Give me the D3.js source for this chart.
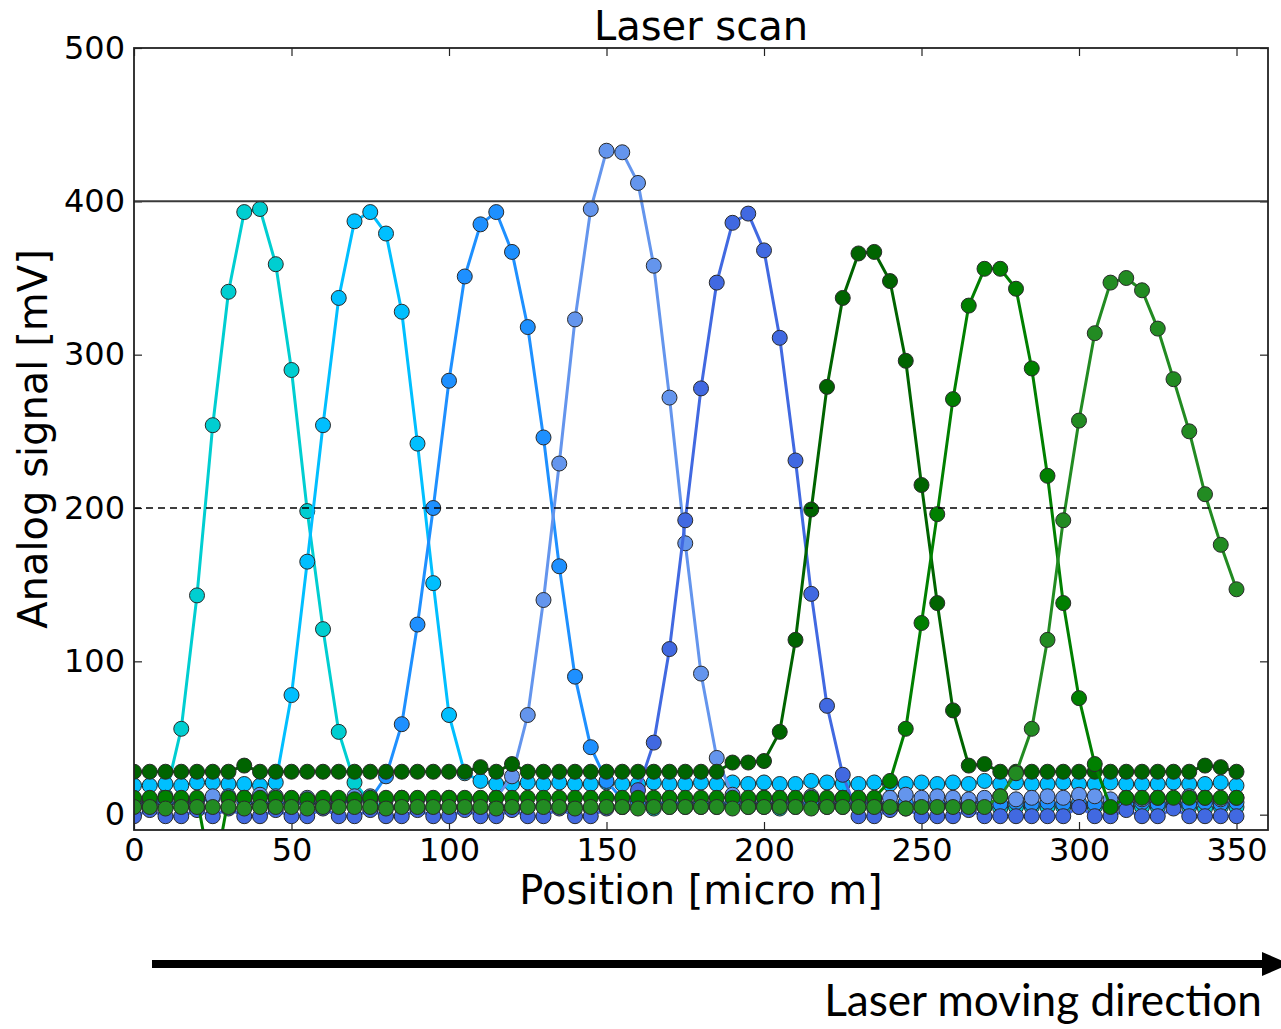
<!DOCTYPE html>
<html lang="en">
  <head>
    <meta charset="utf-8">
    <title>Laser scan</title>
    <script src="https://d3js.org/d3.v7.min.js"></script>
    <style type="text/css">
      body { margin: 0; background: #fff; }
      .chart text { font-family: 'DejaVu Sans', sans-serif; fill: #000; }
      .axis text { font-size: 32px; }
      .axis line { stroke: #222; stroke-width: 1.2px; }
      .axis path { display: none; }
      .series path { fill: none; stroke-width: 3px; }
      .series circle { stroke: #2a2a2a; stroke-width: 1px; }
      .note { font-family: Lato, 'Open Sans', sans-serif !important; }
    </style>
  </head>
  <body>
    <div class="chart" id="chart"></div>
    <script>
      // scan positions [micro m]
      var positions = [
        0, 5, 10, 15, 20, 25, 30, 35, 40, 45,
        50, 55, 60, 65, 70, 75, 80, 85, 90, 95,
        100, 105, 110, 115, 120, 125, 130, 135, 140, 145,
        150, 155, 160, 165, 170, 175, 180, 185, 190, 195,
        200, 205, 210, 215, 220, 225, 230, 235, 240, 245,
        250, 255, 260, 265, 270, 275, 280, 285, 290, 295,
        300, 305, 310, 315, 320, 325, 330, 335, 340, 345,
        350];

      // analog signal [mV] per channel
      var ch1 = [
        5, 6, 12, 56, 143, 254, 341, 393, 395, 359,
        290, 198, 121, 54, 21, 8, 5, 5, 4, 5,
        5, 5, 4, 5, 5, 5, 6, 5, 5, 4,
        5, 5, 5, 4, 5, 5, 5, 5, 6, 5,
        5, 4, 5, 5, 5, 5, 5, 4, 5, 5,
        5, 5, 6, 5, 5, 4, 5, 5, 5, 5,
        5, 5, 4, 5, 5, 5, 6, 5, 4, 5,
        5];
      var ch2 = [
        19, 19, 20, 19, 21, 21, 20, 20, 19, 21,
        78, 165, 254, 337, 387, 393, 379, 328, 242, 151,
        65, 27, 22, 20, 20, 21, 20, 21, 20, 20,
        21, 20, 20, 21, 20, 20, 21, 20, 21, 20,
        21, 20, 20, 22, 21, 20, 20, 21, 20, 20,
        21, 20, 21, 20, 22, 20, 21, 20, 20, 21,
        20, 20, 21, 20, 20, 20, 21, 20, 20, 21,
        19];
      var ch3 = [
        8, 7, 8, 7, 8, 11, 12, 8, 7, 8,
        7, 8, 7, 8, 9, 10, 25, 59, 124, 200,
        283, 351, 385, 393, 367, 318, 246, 162, 90, 44,
        22, 10, 8, 7, 8, 7, 8, 7, 8, 8,
        7, 8, 7, 8, 7, 8, 7, 8, 7, 8,
        7, 8, 7, 8, 8, 7, 8, 7, 8, 7,
        8, 7, 8, 7, 8, 7, 8, 7, 8, 7,
        8];
      var ch4 = [
        10, 10, 11, 10, 10, 12, 10, 11, 13, 12,
        10, 11, 10, 10, 12, 12, 10, 11, 10, 10,
        11, 10, 10, 11, 25, 65, 140, 229, 323, 395,
        433, 432, 412, 358, 272, 177, 92, 37, 13, 10,
        11, 10, 10, 12, 10, 11, 10, 10, 11, 13,
        11, 12, 11, 10, 11, 12, 10, 11, 12, 11,
        13, 12, 10, 11, 10, 11, 10, 12, 11, 10,
        11];
      var ch5 = [
        -1, 3, -1, -1, 3, -1, 4, -1, -1, 3,
        -1, -1, 4, -1, -1, 3, -1, -1, 3, -1,
        -1, 3, -1, -1, 3, -1, -1, 4, -1, -1,
        4, 5, 16, 47, 108, 192, 278, 347, 386, 392,
        368, 311, 231, 144, 71, 26, -1, -1, 3, 4,
        -1, -1, -1, 3, -1, -1, -1, -1, -1, -1,
        5, -1, -1, 3, -1, -1, 4, -1, -1, -1,
        -1];
      var ch6 = [
        28, 28, 28, 28, 28, 28, 28, 32, 28, 28,
        28, 28, 28, 28, 28, 28, 28, 28, 28, 28,
        28, 28, 31, 28, 33, 28, 28, 28, 28, 28,
        28, 28, 28, 28, 28, 28, 28, 28, 34, 34,
        35, 54, 114, 199, 279, 337, 366, 367, 348, 296,
        215, 138, 68, 32, 33, 28, 28, 28, 28, 28,
        28, 28, 28, 28, 28, 28, 28, 28, 32, 31,
        28];
      var ch7 = [
        11, 11, 11, 11, 11, -45, 11, 11, 11, 11,
        11, 10, 11, 11, 10, 11, 11, 11, 11, 11,
        11, 11, 11, 11, 11, 11, 11, 11, 11, 11,
        11, 11, 11, 11, 11, 11, 11, 11, 11, 11,
        11, 11, 11, 11, 11, 11, 11, 11, 22, 56,
        125, 196, 271, 332, 356, 356, 343, 291, 221, 138,
        76, 33, 5, 11, 11, 11, 11, 11, 11, 11,
        11];
      var ch8 = [
        5, 5, 4, 5, 5, 5, 5, 4, 5, 5,
        5, 4, 5, 5, 5, 5, 4, 5, 5, 5,
        5, 5, 5, 4, 5, 5, 5, 5, 4, 5,
        5, 5, 4, 5, 5, 5, 5, 5, 4, 5,
        5, 5, 5, 4, 5, 5, 5, 5, 5, 4,
        5, 5, 5, 5, 5, 12, 27, 56, 114, 192,
        257, 314, 347, 350, 342, 317, 284, 250, 209, 176,
        147];

      var channels = [ch1, ch2, ch3, ch4, ch5, ch6, ch7, ch8];
      var colors = ["darkturquoise", "deepskyblue", "dodgerblue", "cornflowerblue",
                    "royalblue", "darkgreen", "green", "forestgreen"];

      var xTicks = [0, 50, 100, 150, 200, 250, 300, 350];
      var yTicks = [0, 100, 200, 300, 400, 500];
      var solidLevel = 400;
      var dashedLevel = 200;

      var width = 1281, height = 1029;
      var margin = {top: 48, right: 13, bottom: 199, left: 134};
      var plotW = width - margin.left - margin.right;
      var plotH = height - margin.top - margin.bottom;

      var svg = d3.select("#chart").append("svg")
          .attr("width", width)
          .attr("height", height)
          .style("background", "#fff");

      var x = d3.scaleLinear().domain([0, 360]).range([0, plotW]);
      var y = d3.scaleLinear().domain([-10, 500]).range([plotH, 0]);

      var g = svg.append("g")
          .attr("transform", "translate(" + margin.left + "," + margin.top + ")");

      g.append("clipPath").attr("id", "clip")
        .append("rect").attr("width", plotW).attr("height", plotH);

      // axes, ticks pointing inward
      g.append("g").attr("class", "axis")
          .attr("transform", "translate(0," + plotH + ")")
          .call(d3.axisBottom(x).tickValues(xTicks).tickSize(-8).tickPadding(8));
      g.append("g").attr("class", "axis")
          .call(d3.axisTop(x).tickValues(xTicks).tickSize(-8).tickFormat(""));
      g.append("g").attr("class", "axis")
          .call(d3.axisLeft(y).tickValues(yTicks).tickSize(-8).tickPadding(9));
      g.append("g").attr("class", "axis")
          .attr("transform", "translate(" + plotW + ",0)")
          .call(d3.axisRight(y).tickValues(yTicks).tickSize(-8).tickFormat(""));

      var plot = g.append("g").attr("clip-path", "url(#clip)");

      var line = d3.line()
          .x(function(d, i) { return x(positions[i]); })
          .y(function(d) { return y(d); });

      channels.forEach(function(values, k) {
        var s = plot.append("g").attr("class", "series");
        s.append("path")
            .datum(values)
            .attr("stroke", colors[k])
            .attr("d", line);
        s.selectAll("circle")
            .data(values)
            .enter().append("circle")
              .attr("cx", function(d, i) { return x(positions[i]); })
              .attr("cy", function(d) { return y(d); })
              .attr("r", 7.5)
              .attr("fill", colors[k]);
      });

      plot.append("line")
          .attr("x1", 0).attr("x2", plotW)
          .attr("y1", y(solidLevel)).attr("y2", y(solidLevel))
          .attr("stroke", "#3a3a3a").attr("stroke-width", 2);
      plot.append("line")
          .attr("x1", 0).attr("x2", plotW)
          .attr("y1", y(dashedLevel)).attr("y2", y(dashedLevel))
          .attr("stroke", "#000").attr("stroke-width", 1.5)
          .attr("stroke-dasharray", "7,5");

      // frame
      g.append("rect")
          .attr("width", plotW).attr("height", plotH)
          .attr("fill", "none").attr("stroke", "#222").attr("stroke-width", 1.8);

      svg.append("text")
          .attr("x", margin.left + plotW / 2).attr("y", 40)
          .attr("text-anchor", "middle")
          .style("font-size", "40px")
          .text("Laser scan");

      svg.append("text")
          .attr("x", margin.left + plotW / 2).attr("y", 904)
          .attr("text-anchor", "middle")
          .style("font-size", "40px")
          .text("Position [micro m]");

      svg.append("text")
          .attr("transform", "translate(47," + (margin.top + plotH / 2) + ") rotate(-90)")
          .attr("text-anchor", "middle")
          .style("font-size", "40px")
          .text("Analog signal [mV]");

      // direction arrow
      svg.append("line")
          .attr("x1", 152).attr("x2", 1266)
          .attr("y1", 964).attr("y2", 964)
          .attr("stroke", "#000").attr("stroke-width", 8);
      svg.append("path")
          .attr("d", "M1262,952 L1290,964 L1262,976 Z")
          .attr("fill", "#000");

      var note = svg.append("text")
          .attr("class", "note")
          .attr("x", 1262).attr("y", 1016)
          .attr("text-anchor", "end")
          .style("font-size", "34px")
          .text("Laser moving direction");
      var len = note.node().getComputedTextLength();
      note.style("font-size", (34 * 438 / len) + "px");
    </script>
  </body>
</html>
